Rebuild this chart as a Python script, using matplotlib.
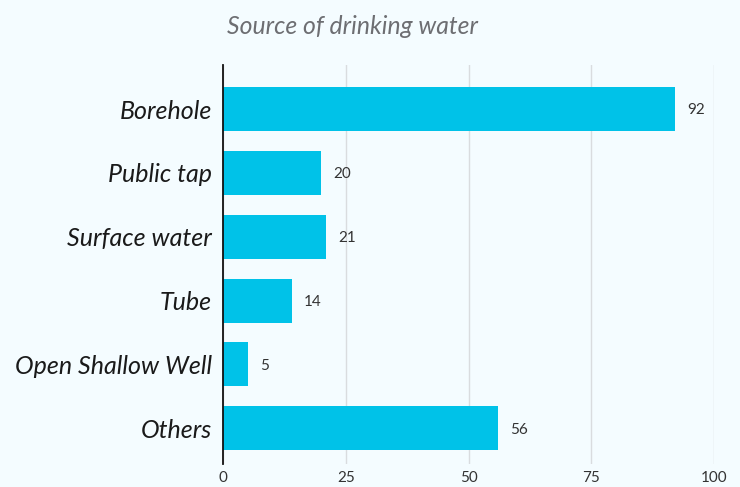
import matplotlib
matplotlib.use("Agg")
import matplotlib.pyplot as plt

# drinking water sources, top to bottom
sources = ["Borehole", "Public tap", "Surface water", "Tube", "Open Shallow Well", "Others"]
counts = [92, 20, 21, 14, 5, 56]
xticks = [0, 25, 50, 75, 100]

bg = "#f4fcff"
bar_color = "#00c2e8"

fig = plt.figure(figsize=(7.4, 4.87), dpi=100, facecolor=bg)
ax = fig.add_axes([0.3014, 0.0472, 0.6635, 0.8193], facecolor=bg)

ypos = list(range(len(sources)))
ax.barh(ypos, counts, height=0.69, color=bar_color, zorder=2)

for y, v in zip(ypos, counts):
    ax.annotate(str(v), xy=(v, y), xytext=(9, -1), textcoords="offset points",
                va="center", ha="left", fontsize=11, family="Lato", color="#333333")

ax.set_xlim(0, 100)
ax.set_ylim(5.56, -0.69)
ax.set_xticks(xticks)
ax.set_xticklabels([str(t) for t in xticks], family="Lato", fontsize=11, color="#333333")
ax.set_yticks(ypos)
ax.set_yticklabels(sources, family="Lato", style="italic", fontsize=18, color="#1a1a1a")
ax.tick_params(axis="both", length=0)
ax.tick_params(axis="y", pad=8)
ax.tick_params(axis="x", pad=5)

ax.grid(axis="x", color="#d9dcdf", linewidth=1, zorder=0)
for side in ["top", "right", "bottom"]:
    ax.spines[side].set_visible(False)
ax.spines["left"].set_color("#111111")
ax.spines["left"].set_linewidth(1.3)
ax.spines["left"].set_zorder(3)

fig.text(0.476, 0.945, "Source of drinking water", ha="center", va="center",
         family="Lato", style="italic", fontsize=17.8, color="#6d6e72")

fig.savefig("out.png", dpi=100, facecolor=bg)
